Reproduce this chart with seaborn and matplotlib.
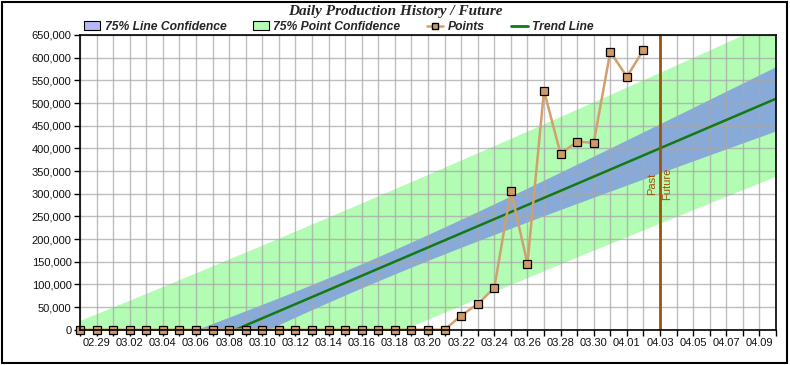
import numpy as np
import pandas as pd
import matplotlib
matplotlib.use("Agg")
import matplotlib.pyplot as plt
import seaborn as sns
from matplotlib.lines import Line2D
from matplotlib.patches import Patch, Rectangle

# ---- data ----
dates = pd.date_range("2024-02-28", "2024-04-10", freq="D")
tick_labels = [d.strftime("%m.%d") for d in dates]
point_values = [0, 0, 0, 0, 0, 0, 0, 0, 0, 0, 0, 0, 0, 0, 0, 0, 0, 0, 0, 0,
                0, 0, 0,
                31000, 57000, 92000, 307000, 146000, 527000, 388000, 415000,
                412000, 613000, 558000, 617000]
future_label = "04.03"
t_value = 1.166   # 75% two-sided t quantile

sns.set_theme(style="white")
plt.rcParams['font.family'] = ['Liberation Sans', 'DejaVu Sans']

n_days = len(tick_labels)
day_idx = np.arange(n_days)
x_pts = np.arange(len(point_values))
y_pts = np.array(point_values, dtype=float)

# regression trend and confidence bands
slope, intercept = np.polyfit(x_pts, y_pts, 1)
n = len(x_pts)
resid = y_pts - (slope * x_pts + intercept)
s = np.sqrt(np.sum(resid ** 2) / (n - 2))
xbar = x_pts.mean()
sxx = np.sum((x_pts - xbar) ** 2)
xs = np.linspace(0, n_days - 1, 200)
trend = slope * xs + intercept
se_line = s * np.sqrt(1 / n + (xs - xbar) ** 2 / sxx)
se_pt = s * np.sqrt(1 + 1 / n + (xs - xbar) ** 2 / sxx)

fig = plt.figure(figsize=(7.9, 3.65), dpi=100)
ax = fig.add_axes([80 / 790, 1 - 329.7 / 365, (776 - 80) / 790, (329.7 - 35) / 365])

green = '#b3fcb3'
blue = '#88aad8'
ax.fill_between(xs, trend - t_value * se_pt, trend + t_value * se_pt, color=green, lw=0, zorder=1)
ax.fill_between(xs, trend - t_value * se_line, trend + t_value * se_line, color=blue, lw=0, zorder=1.5)

df_trend = pd.DataFrame({"x": xs, "y": trend})
sns.lineplot(data=df_trend, x="x", y="y", ax=ax, color='#127a12', lw=1.8, zorder=4)

df_pts = pd.DataFrame({"x": x_pts, "y": y_pts})
sns.lineplot(data=df_pts, x="x", y="y", ax=ax, color='#d2a06e', lw=1.8,
             marker='s', markersize=5.5, markerfacecolor='#d09a68',
             markeredgecolor='black', markeredgewidth=0.9, zorder=6, clip_on=False)

fx = tick_labels.index(future_label)
ax.axvline(fx, color='#a0520a', lw=2, zorder=5)
ax.text(fx - 0.15, 321000, "Past", rotation=90, ha='right', va='center',
        color='#a0520a', fontsize=8)
ax.text(fx + 0.15, 321000, "Future", rotation=90, ha='left', va='center',
        color='#a0520a', fontsize=8)

ax.set_xlim(0, n_days - 1)
ax.set_ylim(0, 650000)
ax.set_xticks(day_idx)
ax.set_xticklabels([lab if i % 2 == 1 else "" for i, lab in enumerate(tick_labels)], fontsize=8)
yt = np.arange(0, 650001, 50000)
ax.set_yticks(yt)
ax.set_yticklabels([f"{v:,}" for v in yt], fontsize=8)
ax.set_xlabel("")
ax.set_ylabel("")
ax.grid(True, color='#a8a8a8', lw=1, alpha=0.75, zorder=2)
ax.set_axisbelow(False)
for sp in ax.spines.values():
    sp.set_color('black')
    sp.set_linewidth(1.2)
    sp.set_zorder(7)
ax.tick_params(axis='both', which='major', direction='out', length=4, width=1,
               color='black', pad=2, labelcolor='#111111', bottom=True, left=True)

fig.text(395 / 790, 1 - 11.5 / 365, "Daily Production History / Future",
         ha='center', va='center', fontsize=11, fontweight='bold', fontstyle='italic',
         family=['Liberation Serif', 'DejaVu Serif'])

handles = [
    Patch(facecolor='#b8b8f8', edgecolor='black', lw=0.8, label='75% Line Confidence'),
    Patch(facecolor='#b3fcb3', edgecolor='black', lw=0.8, label='75% Point Confidence'),
    Line2D([0], [0], color='#d2a06e', lw=1.8, marker='s', markersize=5,
           markerfacecolor='#d09a68', markeredgecolor='black', label='Points'),
    Line2D([0], [0], color='#127a12', lw=2, label='Trend Line'),
]
fig.legend(handles=handles, loc='center left', bbox_to_anchor=(84 / 790, 1 - 27 / 365),
           ncol=4, frameon=False, handlelength=1.35, handleheight=0.8, handletextpad=0.35,
           columnspacing=2.2, borderaxespad=0, borderpad=0,
           prop={'family': ['Liberation Sans'], 'weight': 'bold',
                 'style': 'italic', 'size': 8.7})

fig.patches.append(Rectangle((1.5 / 790, 2.5 / 365), 785 / 790, 361 / 365,
                             transform=fig.transFigure, fill=False,
                             edgecolor='black', lw=1.5))

fig.savefig("out.png", dpi=100)
